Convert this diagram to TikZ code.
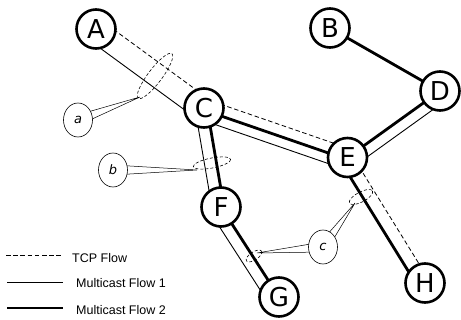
\documentclass[tikz,border=0pt]{standalone}
\usepackage{fontspec}
\setmainfont{Liberation Sans}
\newfontfamily\nodefont{DejaVu Sans}
\usetikzlibrary{calc,shapes.geometric}
\pgfdeclarelayer{bg}
\pgfsetlayers{bg,main}
\newcommand\plink[4]{\draw[#1] ($(#2.center)!#4!-90:(#3.center)$) -- ($(#3.center)!#4!90:(#2.center)$);}
\newcommand\wedgeto[2]{\filldraw[wedgeline] ($(#1.center)!5pt!90:(#2)$) -- (#2) -- ($(#1.center)!5pt!-90:(#2)$) -- cycle;}
\tikzset{
  thickline/.style={line width=2.8pt},
  thinline/.style={line width=0.9pt},
  tcp/.style={line width=0.8pt, dash pattern=on 4.5pt off 2.7pt},
  ring/.style={dashed, line width=0.6pt, dash pattern=on 3pt off 2pt},
  wedgeline/.style={fill=white, draw=black, line width=0.5pt},
  router/.style={circle, draw, line width=2.6pt, fill=white, minimum size=39pt, inner sep=0pt,
    font=\nodefont\fontsize{26}{26}\selectfont},
  callout/.style={ellipse, draw, line width=0.6pt, fill=white, minimum width=29pt, minimum height=34pt,
    inner sep=0pt, font=\nodefont\itshape\fontsize{13}{13}\selectfont},
  legtext/.style={anchor=west, inner sep=0pt, font=\fontsize{12.5}{12.5}\selectfont}
}
\begin{document}
\begin{tikzpicture}[x=1pt,y=-1pt]
\useasboundingbox (0,0) rectangle (461,320);
% routers
\node[router] (A) at (96,29) {A};
\node[router] (B) at (330,28) {B};
\node[router] (C) at (204,108) {C};
\node[router] (D) at (440,91) {D};
\node[router] (E) at (347.5,157.5) {E};
\node[router] (F) at (221,207) {F};
\node[router] (G) at (279,297) {G};
\node[router] (H) at (425,283) {H};
% callouts
\node[callout] (ca) at (78,120) {a};
\node[callout] (cb) at (113,170) {b};
\node[callout] (cc) at (323,247) {c};
\coordinate (ta) at (140,97);
\coordinate (tb) at (197,170);
\coordinate (tc1) at (355,203);
\coordinate (tc2) at (257,253);
\begin{pgfonlayer}{bg}
  % links
  \plink{thinline}{A}{C}{13pt}
  \plink{tcp}{A}{C}{-10pt}
  \plink{thickline}{C}{E}{2pt}
  \plink{thinline}{C}{E}{12pt}
  \plink{tcp}{C}{E}{-9pt}
  \plink{thickline}{C}{F}{-3pt}
  \plink{thinline}{C}{F}{9pt}
  \plink{thickline}{F}{G}{0pt}
  \plink{thinline}{F}{G}{12pt}
  \plink{thickline}{B}{D}{0pt}
  \plink{thickline}{E}{D}{0pt}
  \plink{thinline}{E}{D}{11pt}
  \plink{thickline}{E}{H}{8pt}
  \plink{tcp}{E}{H}{-5pt}
  % flow rings
  \draw[ring, rotate around={53:(155,76)}] (155,76) ellipse [x radius=28, y radius=7];
  \draw[ring, rotate around={11:(212,163)}] (212,163) ellipse [x radius=19, y radius=5];
  \draw[ring, rotate around={28:(361,197)}] (361,197) ellipse [x radius=13, y radius=5];
  \draw[ring, rotate around={33:(254,256)}] (254,256) ellipse [x radius=9, y radius=4];
  % pointers
  \wedgeto{ca}{ta}
  \wedgeto{cb}{tb}
  \wedgeto{cc}{tc1}
  \wedgeto{cc}{tc2}
\end{pgfonlayer}
% legend
\coordinate (l1a) at (6,255);  \coordinate (l1b) at (63,255);
\coordinate (l2a) at (7,282);  \coordinate (l2b) at (63,282);
\coordinate (l3a) at (7,308);  \coordinate (l3b) at (63,308);
\draw[tcp] (l1a) -- (l1b);
\draw[thinline] (l2a) -- (l2b);
\draw[thickline] (l3a) -- (l3b);
\node[legtext] (k1) at (72,258) {TCP Flow};
\node[legtext] (k2) at (76,283) {Multicast Flow 1};
\node[legtext] (k3) at (76,310) {Multicast Flow 2};
\end{tikzpicture}
\end{document}
